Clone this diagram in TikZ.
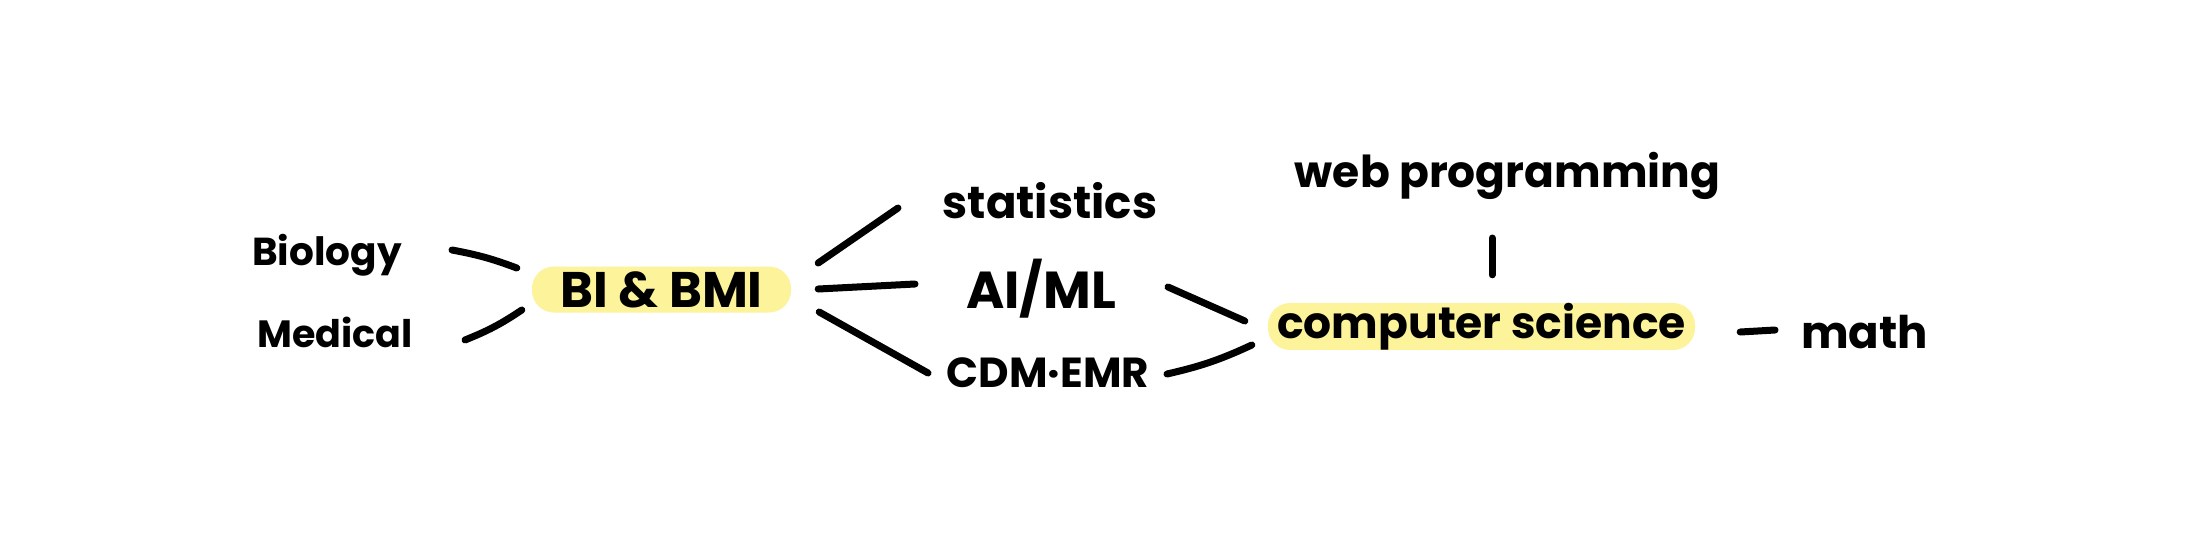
\documentclass[tikz,border=0pt]{standalone}
\usepackage{fontspec}
\setmainfont{Poppins}
\usepackage{tikz}
\usepackage{xcolor}
\definecolor{hilite}{HTML}{FCF39B}
\tikzset{fs/.style={font=\fontsize{#1}{#1}\selectfont\bfseries}}

\begin{document}
\begin{tikzpicture}[x=1pt, y=-1pt, every node/.style={fs=44, inner sep=0pt}]
\tikzstyle{word}=[anchor=base]
\tikzstyle{hl}=[fill=hilite, rounded corners=22pt, minimum height=46pt]
\tikzstyle{link}=[line width=7pt, line cap=round]
\fill[white] (0,0) rectangle (2196,550);
\useasboundingbox (0,0) rectangle (2196,550);
\node[word, fs=39] (bio) at (327,265) {Biology};
\node[word, fs=38] (med) at (335,347) {Medical};
\node[hl, fs=50, minimum width=259pt] (bi) at (661.5,289.5) {BI \& BMI};
\node[word, fs=45] (stat) at (1050,218) {statistics};
\node[word, fs=52] (ai) at (1041,308) {AI/ML};
\node[word, fs=42] (cdm) at (1048,387) {CDM·EMR};
\node[word] (web) at (1507.5,187) {web programming};
\node[hl, minimum width=427pt] (cs) at (1481.5,326.5) {computer science};
\node[word, fs=45] (math) at (1864.5,348) {math};
\draw[link] ([shift={(125,-15)}]bio.base) to[bend left=5] ([shift={(-15,-21.5)}]bi.west);
\draw[link] ([shift={(130,-7)}]med.base) to[bend right=6] ([shift={(-10,20.5)}]bi.west);
\draw[link] ([shift={(27,-26.5)}]bi.east) -- ([shift={(-152,-10)}]stat.base);
\draw[link] ([shift={(27,-0.5)}]bi.east) -- ([shift={(-126,-24)}]ai.base);
\draw[link] ([shift={(28,22.5)}]bi.east) -- ([shift={(-120,-14)}]cdm.base);
\draw[link] ([shift={(127,-21)}]ai.base) -- ([shift={(-23,-5.5)}]cs.west);
\draw[link] ([shift={(119,-13)}]cdm.base) to[bend right=6] ([shift={(-16,18.5)}]cs.west);
\draw[link] ([shift={(-15.5,51)}]web.base) -- ([shift={(10.5,-28)}]cs.north);
\draw[link] ([shift={(45,5.5)}]cs.east) -- ([shift={(-89.5,-18)}]math.base);
\end{tikzpicture}
\end{document}
